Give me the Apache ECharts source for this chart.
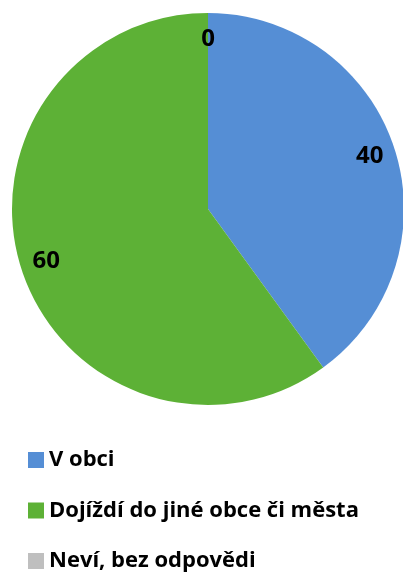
<!DOCTYPE html>
<html><head><meta charset="utf-8">
<script src="https://cdn.jsdelivr.net/npm/echarts@6/dist/echarts.min.js"></script>
<style>html,body{margin:0;padding:0;background:#fff}#c{width:403px;height:572px}</style>
</head><body><div id="c"></div>
<script>
const categories = ['V obci', 'Dojíždí do jiné obce či města', 'Neví, bez odpovědi'];
const values = [40, 60, 0];
const colors = ['#558ED5', '#5DB136', '#BFBFBF'];

const chart = echarts.init(document.getElementById('c'));
const data = categories.map((n, i) => ({ name: n, value: values[i], itemStyle: { color: colors[i] } }));
chart.setOption({
  animation: false,
  legend: {
    orient: 'vertical', left: 28, top: 446, height: 140, padding: 0,
    itemWidth: 16, itemHeight: 16, itemGap: 22.5,
    icon: 'rect',
    textStyle: { fontFamily: 'Open Sans', fontWeight: 'bold', fontSize: 22, color: '#000', lineHeight: 28 },
    data: categories
  },
  series: [
    {
      type: 'pie', center: [208, 209], radius: [0, 196], startAngle: 90, clockwise: true,
      label: { show: false }, labelLine: { show: false },
      itemStyle: { borderWidth: 0 },
      emphasis: { disabled: true },
      data: data
    },
    {
      type: 'pie', center: [208, 209], radius: [138, 196], startAngle: 90, clockwise: true,
      silent: true, legendHoverLink: false,
      itemStyle: { color: 'rgba(0,0,0,0)', borderWidth: 0 },
      label: { show: true, position: 'inside', formatter: '{c}', fontFamily: 'Open Sans', fontWeight: 'bold', fontSize: 24, color: '#000' },
      labelLine: { show: false },
      emphasis: { disabled: true },
      data: categories.map((n, i) => ({ name: n, value: values[i] }))
    }
  ]
});
</script></body></html>
